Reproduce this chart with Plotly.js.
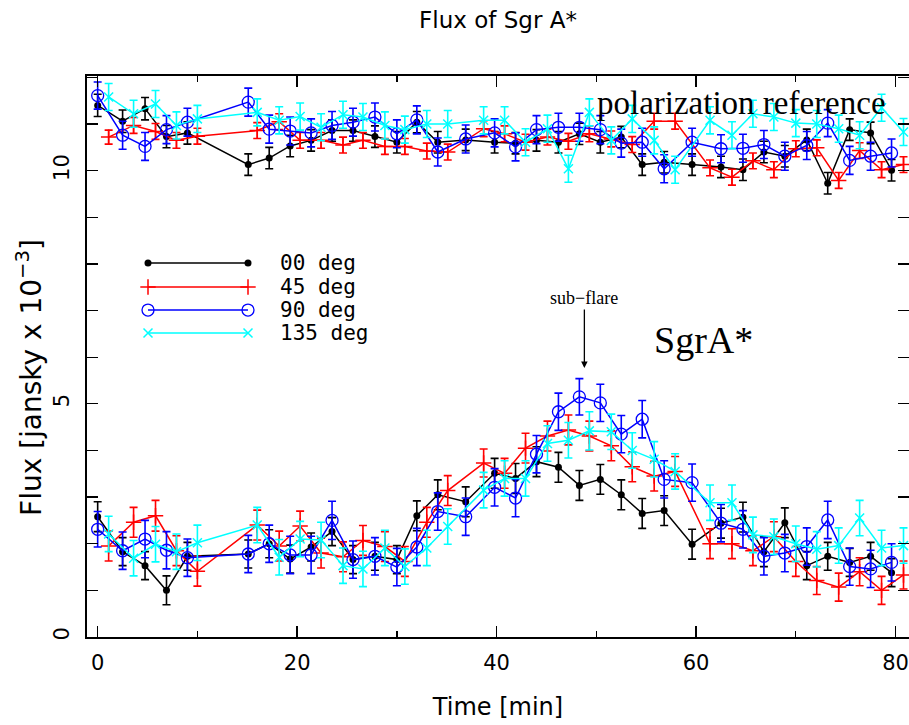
<!DOCTYPE html>
<html>
<head>
<meta charset="utf-8">
<script src="https://cdn.plot.ly/plotly-3.0.1.min.js"></script>
<style>html,body{margin:0;padding:0;background:#fff;}#chart{width:909px;height:725px;}</style>
</head>
<body>
<div id="chart"></div>
<script>
// ---- data (time in minutes, flux in mJy) ----
const timesA = [0, 2.5, 4.75, 6.9, 9.0, 15.1, 17.2, 19.3, 21.4, 23.5, 25.6, 27.8, 30.0, 32.0, 34.1, 36.9, 39.8, 41.9, 44.0, 46.2, 48.3, 50.4, 52.5, 54.6, 56.8, 59.6, 62.5, 64.7, 66.8, 68.9, 71.1, 73.2, 75.4, 77.5, 79.6];
const timesB = [1.1, 3.6, 5.8, 7.9, 10.0, 16.0, 18.2, 20.3, 22.4, 24.6, 26.6, 28.8, 30.8, 33.0, 35.1, 38.7, 40.8, 42.9, 45.1, 47.2, 49.3, 51.5, 53.6, 55.8, 57.9, 61.4, 63.6, 65.7, 67.8, 70.0, 72.1, 74.3, 76.4, 78.6, 80.8];

// polarization reference
const ref00 = [11.40, 11.06, 11.33, 10.73, 10.81, 10.13, 10.27, 10.53, 10.65, 10.86, 10.86, 10.73, 10.61, 11.04, 10.61, 10.66, 10.61, 10.59, 10.65, 10.61, 10.79, 10.61, 10.72, 10.13, 10.18, 10.13, 10.08, 10.02, 10.40, 10.31, 10.66, 9.73, 10.88, 10.81, 10.01];
const ref45 = [10.72, 10.97, 10.84, 10.65, 10.74, 10.86, 11.05, 10.65, 10.65, 10.55, 10.65, 10.52, 10.52, 10.42, 10.40, 10.90, 10.79, 10.61, 10.72, 10.63, 10.79, 10.68, 10.56, 11.06, 11.06, 10.06, 9.86, 10.21, 10.02, 10.47, 10.49, 9.79, 10.43, 10.02, 10.13];
const ref90 = [11.61, 10.76, 10.52, 10.88, 11.04, 11.47, 10.89, 10.85, 10.81, 10.97, 11.04, 11.15, 10.79, 11.09, 10.40, 10.68, 10.81, 10.51, 10.88, 10.93, 10.93, 10.88, 10.59, 10.61, 10.04, 10.61, 10.47, 10.48, 10.56, 10.31, 10.54, 11.02, 10.22, 10.31, 10.38];
const ref135 = [11.58, 11.22, 11.43, 10.97, 11.11, 11.25, 11.08, 11.16, 10.93, 11.20, 11.15, 10.97, 10.88, 11.00, 11.00, 11.08, 11.08, 10.61, 10.90, 10.04, 11.25, 10.65, 11.11, 10.65, 10.02, 11.08, 10.76, 11.22, 11.15, 11.02, 11.00, 10.90, 10.76, 11.35, 10.83];
const refErr00 = [0.24, 0.24, 0.24, 0.24, 0.24, 0.23, 0.23, 0.23, 0.23, 0.23, 0.23, 0.23, 0.23, 0.23, 0.23, 0.23, 0.23, 0.23, 0.23, 0.23, 0.23, 0.23, 0.23, 0.23, 0.23, 0.23, 0.23, 0.23, 0.23, 0.23, 0.23, 0.23, 0.23, 0.23, 0.23];
const refErr45 = [0.15, 0.17, 0.17, 0.17, 0.17, 0.17, 0.17, 0.17, 0.17, 0.17, 0.17, 0.17, 0.17, 0.17, 0.17, 0.17, 0.17, 0.17, 0.17, 0.17, 0.17, 0.17, 0.17, 0.17, 0.17, 0.17, 0.17, 0.17, 0.17, 0.17, 0.17, 0.17, 0.17, 0.17, 0.17];
const refErr90 = [0.29, 0.30, 0.30, 0.30, 0.30, 0.30, 0.30, 0.30, 0.30, 0.30, 0.30, 0.30, 0.30, 0.30, 0.30, 0.30, 0.30, 0.30, 0.30, 0.30, 0.30, 0.30, 0.30, 0.30, 0.30, 0.30, 0.30, 0.30, 0.30, 0.30, 0.30, 0.29, 0.30, 0.30, 0.30];
const refErr135 = [0.29, 0.29, 0.29, 0.29, 0.29, 0.29, 0.29, 0.29, 0.29, 0.29, 0.29, 0.29, 0.29, 0.29, 0.29, 0.29, 0.29, 0.29, 0.29, 0.29, 0.29, 0.29, 0.29, 0.29, 0.29, 0.29, 0.29, 0.29, 0.29, 0.29, 0.29, 0.29, 0.29, 0.29, 0.29];

// Sgr A*
const sgr00 = [2.58, 1.83, 1.53, 1.00, 1.73, 1.78, 2.00, 1.67, 1.93, 2.26, 1.66, 1.73, 1.66, 2.60, 3.05, 2.90, 3.51, 3.40, 3.76, 3.64, 3.25, 3.38, 3.05, 2.65, 2.71, 1.99, 2.44, 2.57, 1.83, 2.45, 1.53, 1.73, 1.60, 1.73, 1.38];
const sgr45 = [1.95, 2.46, 2.60, 1.85, 1.41, 2.40, 1.95, 2.38, 1.80, 1.72, 2.07, 1.94, 1.62, 2.46, 3.14, 3.73, 3.51, 4.05, 4.31, 4.44, 4.31, 4.10, 3.65, 3.45, 3.55, 2.00, 2.00, 1.85, 2.15, 1.62, 1.21, 1.07, 1.40, 1.00, 1.33];
const sgr90 = [2.31, 1.85, 2.10, 1.86, 1.70, 1.78, 2.00, 1.76, 1.76, 2.50, 1.66, 1.73, 1.50, 1.93, 2.69, 2.58, 3.21, 2.98, 3.92, 4.83, 5.15, 5.02, 4.35, 4.67, 3.38, 3.31, 2.44, 2.31, 1.73, 1.80, 1.94, 2.51, 1.51, 1.46, 1.60];
const sgr135 = [2.21, 1.69, 1.99, 1.83, 2.02, 2.40, 1.71, 2.10, 2.08, 1.53, 1.46, 1.91, 1.51, 1.91, 2.37, 3.15, 3.40, 3.40, 4.15, 4.22, 4.42, 4.40, 4.00, 3.81, 3.55, 2.88, 2.88, 2.19, 2.15, 2.00, 1.88, 1.96, 2.55, 1.91, 1.96];
const sgrErr00 = [0.32, 0.30, 0.30, 0.31, 0.30, 0.30, 0.30, 0.30, 0.30, 0.30, 0.30, 0.30, 0.30, 0.32, 0.32, 0.32, 0.32, 0.32, 0.32, 0.32, 0.32, 0.32, 0.32, 0.32, 0.32, 0.32, 0.32, 0.32, 0.32, 0.32, 0.30, 0.30, 0.30, 0.30, 0.30];
const sgrErr45 = [0.32, 0.32, 0.33, 0.32, 0.32, 0.32, 0.32, 0.32, 0.32, 0.32, 0.32, 0.32, 0.32, 0.32, 0.32, 0.30, 0.32, 0.32, 0.32, 0.32, 0.32, 0.32, 0.32, 0.32, 0.32, 0.32, 0.32, 0.32, 0.32, 0.32, 0.30, 0.30, 0.30, 0.30, 0.30];
const sgrErr90 = [0.38, 0.40, 0.40, 0.40, 0.40, 0.40, 0.40, 0.40, 0.40, 0.41, 0.40, 0.40, 0.40, 0.40, 0.40, 0.40, 0.40, 0.40, 0.40, 0.40, 0.39, 0.40, 0.40, 0.40, 0.40, 0.40, 0.40, 0.40, 0.40, 0.40, 0.40, 0.40, 0.40, 0.40, 0.40];
const sgrErr135 = [0.38, 0.38, 0.38, 0.38, 0.38, 0.38, 0.38, 0.38, 0.38, 0.38, 0.38, 0.38, 0.38, 0.38, 0.38, 0.38, 0.38, 0.38, 0.38, 0.38, 0.41, 0.38, 0.38, 0.38, 0.38, 0.38, 0.38, 0.38, 0.38, 0.38, 0.38, 0.38, 0.38, 0.38, 0.38];

const seriesNames = ['00 deg', '45 deg', '90 deg', '135 deg'];
const chartTitle = 'Flux of Sgr A*';
const xTitle = 'Time [min]';
const yTitle = 'Flux [jansky x 10<sup>\u22123</sup>]';

// ---- styles ----
const styles = [
  {color: '#000000', marker: {symbol: 'circle', size: 7, color: '#000000'}},
  {color: '#ff0000', marker: {symbol: 'cross-thin-open', size: 11, color: '#ff0000', line: {color: '#ff0000', width: 1.5}}},
  {color: '#0000ff', marker: {symbol: 'circle-open', size: 12, color: '#0000ff', line: {color: '#0000ff', width: 1.3}}},
  {color: '#00ffff', marker: {symbol: 'x-thin-open', size: 9, color: '#00ffff', line: {color: '#00ffff', width: 1.5}}}
];

function mk(x, y, err, s) {
  return {
    type: 'scatter', mode: 'lines+markers', x: x, y: y,
    line: {color: s.color, width: 1.5},
    marker: s.marker,
    error_y: {type: 'data', array: err, visible: true, color: s.color, thickness: 1.6, width: 4},
    showlegend: false, hoverinfo: 'skip', cliponaxis: true
  };
}

const refY = [ref00, ref45, ref90, ref135];
const refE = [refErr00, refErr45, refErr90, refErr135];
const sgrY = [sgr00, sgr45, sgr90, sgr135];
const sgrE = [sgrErr00, sgrErr45, sgrErr90, sgrErr135];
const tX = [timesA, timesB, timesA, timesB];

const traces = [];
for (let i = 0; i < 4; i++) traces.push(mk(tX[i], refY[i], refE[i], styles[i]));
for (let i = 0; i < 4; i++) traces.push(mk(tX[i], sgrY[i], sgrE[i], styles[i]));

// ---- hand-drawn legend on a pixel overlay axis ----
const LEG_X0 = 148, LEG_X1 = 248, LEG_TX = 278;
const LEG_ROWS = [263, 287, 310, 333];
for (let i = 0; i < 4; i++) {
  traces.push({
    type: 'scatter', mode: 'lines+markers', xaxis: 'x2', yaxis: 'y2',
    x: [LEG_X0, LEG_X1], y: [LEG_ROWS[i], LEG_ROWS[i]],
    line: {color: styles[i].color, width: 1.5}, marker: styles[i].marker,
    showlegend: false, hoverinfo: 'skip'
  });
}

const tickFont = {family: 'DejaVu Sans', size: 21, color: '#000'};
const annotations = [
  {xref: 'paper', yref: 'paper', x: (30 - 87) / 822, y: (637.3 - 378) / 561.6, xanchor: 'center', yanchor: 'middle',
   text: yTitle, textangle: -90, showarrow: false, font: {family: 'DejaVu Sans', size: 28, color: '#000'}},
  {xref: 'x', yref: 'y', x: 49.85, y: 11.46, xanchor: 'left', text: 'polarization reference',
   showarrow: false, font: {family: 'Liberation Serif', size: 33, color: '#000'}},
  {xref: 'x', yref: 'y', x: 55.6, y: 6.37, xanchor: 'left', text: 'SgrA*',
   showarrow: false, font: {family: 'Liberation Serif', size: 38, color: '#000'}},
  {xref: 'x', yref: 'y', x: 48.8, y: 5.77, text: 'sub\u2212flare', showarrow: true,
   arrowhead: 2, arrowsize: 1, arrowwidth: 1.3, arrowcolor: '#000', ax: 0, ay: -70, standoff: 0,
   font: {family: 'Liberation Serif', size: 18, color: '#000'}}
];
for (let i = 0; i < 4; i++) {
  annotations.push({xref: 'x2', yref: 'y2', x: LEG_TX, y: LEG_ROWS[i], xanchor: 'left', yanchor: 'middle',
    text: seriesNames[i], showarrow: false, font: {family: 'DejaVu Sans Mono', size: 21, color: '#000'}});
}

const layout = {
  width: 909, height: 725,
  margin: {l: 87, r: 0, t: 76, b: 88, pad: 0},
  paper_bgcolor: '#fff', plot_bgcolor: '#fff',
  showlegend: false,
  title: {text: chartTitle, x: 0.5, xref: 'paper', y: 1 - 20 / 725, yanchor: 'middle',
          font: {family: 'DejaVu Sans', size: 23, color: '#000'}},
  xaxis: {
    range: [-1.07, 81.35], showgrid: false, zeroline: false,
    showline: true, linecolor: '#000', linewidth: 2, mirror: 'allticks',
    ticks: 'inside', ticklen: 11, tickwidth: 1.3, tickcolor: '#000',
    tick0: 0, dtick: 20, tickfont: tickFont, ticklabelstandoff: 6,
    minor: {ticks: 'inside', ticklen: 6, tickwidth: 1.3, tickcolor: '#000', dtick: 10, showgrid: false},
    title: {text: xTitle, font: {family: 'DejaVu Sans', size: 24, color: '#000'}, standoff: 24}
  },
  yaxis: {
    range: [0, 12.03], showgrid: false, zeroline: false,
    showline: true, linecolor: '#000', linewidth: 2, mirror: 'allticks',
    ticks: 'inside', ticklen: 11, tickwidth: 1.3, tickcolor: '#000',
    tick0: 0, dtick: 5, tickfont: tickFont, tickangle: -90, ticklabelstandoff: 8,
    minor: {ticks: 'inside', ticklen: 11, tickwidth: 1.3, tickcolor: '#000', dtick: 1, showgrid: false}
  },
  xaxis2: {overlaying: 'x', range: [87, 909], visible: false, fixedrange: true},
  yaxis2: {overlaying: 'y', range: [637.3, 75.7], visible: false, fixedrange: true},
  annotations: annotations
};

Plotly.newPlot('chart', traces, layout, {displayModeBar: false, staticPlot: true});
</script>
</body>
</html>
